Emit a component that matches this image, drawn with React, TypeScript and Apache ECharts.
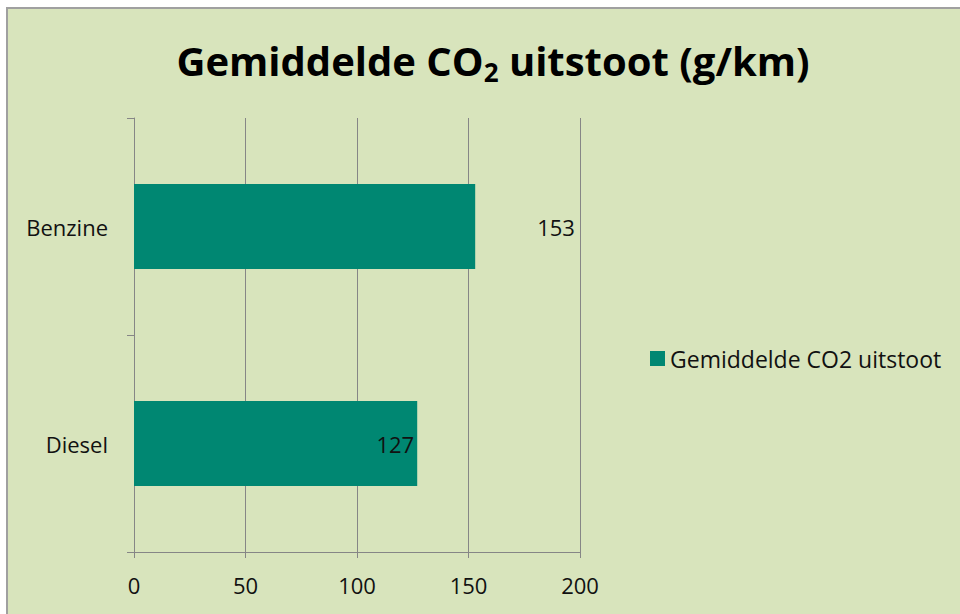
import React, { useEffect, useRef } from "react";
import * as echarts from "echarts";

const categories = ["Benzine", "Diesel"];
const values = [153, 127];
const seriesName = "Gemiddelde CO2 uitstoot";
const xTicks = [0, 50, 100, 150, 200];

const FONT = "'Open Sans', Lato, sans-serif";
const FS = 22;

export default function App() {
  const ref = useRef<HTMLDivElement>(null);
  useEffect(() => {
    if (!ref.current) return;
    const chart = echarts.init(ref.current, undefined, { renderer: "svg" });
    const gridC = "#868686";
    chart.setOption({
      animation: false,
      backgroundColor: "#ffffff",
      textStyle: { fontFamily: FONT },
      graphic: [
        {
          type: "rect",
          z: -10,
          shape: { x: 7, y: 8, width: 960, height: 612 },
          style: { fill: "#d8e4bc", stroke: "#a0a0a0", lineWidth: 2 },
          silent: true,
        },
      ],
      title: {
        text: "{a|Gemiddelde CO}{s|2}{a| uitstoot (g/km)}",
        left: 488,
        textAlign: "center",
        top: 30,
        textStyle: {
          rich: {
            a: { fontSize: 40, fontWeight: "bold", color: "#000", fontFamily: FONT, lineHeight: 50 },
            s: { fontSize: 26, fontWeight: "bold", color: "#000", fontFamily: FONT, lineHeight: 50, padding: [24, 0, 0, 0] },
          },
        },
      },
      legend: {
        left: 645,
        top: 342,
        itemWidth: 15,
        itemHeight: 15,
        icon: "rect",
        textStyle: { fontSize: 23, color: "#111", fontFamily: FONT },
        data: [seriesName],
      },
      grid: { left: 134, right: 380, top: 118, bottom: 62 },
      xAxis: {
        type: "value",
        min: 0,
        max: 200,
        interval: 50,
        axisLine: { show: true, lineStyle: { color: gridC, width: 1 } },
        axisTick: { show: true, length: 6, lineStyle: { color: gridC } },
        splitLine: { show: true, lineStyle: { color: gridC, width: 1 } },
        axisLabel: {
          margin: 22,
          fontSize: FS,
          color: "#111",
          fontFamily: FONT,
          formatter: (v: number) => (xTicks.includes(v) ? String(v) : ""),
        },
      },
      yAxis: {
        type: "category",
        inverse: true,
        data: categories,
        axisLine: { show: true, lineStyle: { color: gridC, width: 1 } },
        axisTick: { show: true, length: 7, lineStyle: { color: gridC } },
        axisLabel: { margin: 26, fontSize: FS, color: "#111", fontFamily: FONT },
      },
      series: [
        {
          name: seriesName,
          type: "bar",
          barWidth: 85,
          itemStyle: { color: "#008772" },
          data: values.map((v, i) =>
            i === 0
              ? { value: v, label: { show: true, position: "right", distance: 62 } }
              : { value: v, label: { show: true, position: "insideRight", distance: 3 } }
          ),
          label: { fontSize: FS, color: "#111", fontFamily: FONT },
        },
      ],
    });
    return () => chart.dispose();
  }, []);
  return (
    <div style={{ position: "fixed", left: 0, top: 0, width: 960, height: 614 }}>
      <div ref={ref} style={{ width: 960, height: 614 }} />
    </div>
  );
}
